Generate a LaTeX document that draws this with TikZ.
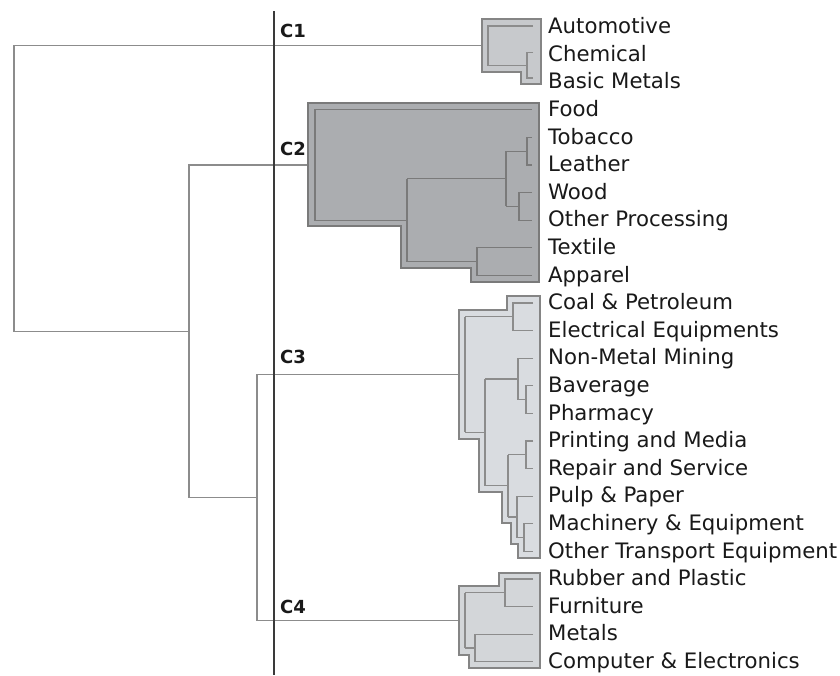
\documentclass[tikz,border=0pt]{standalone}
\usepackage{fontspec}
\setmainfont{DejaVu Sans}
\definecolor{axiscol}{HTML}{3A3A3A}
\definecolor{linkcol}{HTML}{8C8C8C}
\definecolor{edgecol}{HTML}{858585}
\definecolor{edgedark}{HTML}{7A7A7A}
\definecolor{fillone}{HTML}{C7C9CC}
\definecolor{filltwo}{HTML}{ABADB0}
\definecolor{fillthree}{HTML}{D9DCE0}
\definecolor{fillfour}{HTML}{D3D6D9}
\tikzset{
  linkline/.style={draw=linkcol, line width=1.1pt},
  axisline/.style={draw=axiscol, line width=1.6pt},
  clusterbox/.style={draw=edgecol, line width=2pt, line join=miter},
  innerline/.style={draw=linkcol, line width=1.2pt},
  leaflabel/.style={anchor=base west, inner sep=0pt, font=\fontsize{21.25}{24}\selectfont, text=black!90},
  clabel/.style={anchor=west, inner sep=0pt, font=\fontsize{18}{20}\selectfont\bfseries, text=black!90}
}
\begin{document}
\begin{tikzpicture}[x=1pt,y=-1pt]
\useasboundingbox[fill=white] (0,0) rectangle (840,675);

% cluster roots
\coordinate (k1) at (488,45.6);
\coordinate (k2) at (315,165);
\coordinate (k3) at (465,374.6);
\coordinate (k4) at (465,620.4);
% upper-level joins
\coordinate (j34) at (257,497.5);
\coordinate (j234) at (189,331.25);
\coordinate (j0) at (14,45.6);

% top-level dendrogram
\draw[linkline] (k1) -- (j0) -- (j0 |- j234) -- (j234);
\draw[linkline] (k2) -- (k2 -| j234) -- (j234 |- j34) -- (j34);
\draw[linkline] (k3) -- (k3 -| j34) -- (j34 |- k4) -- (k4);

% axis
\coordinate (axtop) at (274,11);
\coordinate (axbot) at (274,675);
\draw[axisline] (axtop) -- (axbot);
\node[clabel] (C1) at (280,31) {C1};
\node[clabel] (C2) at (280,148.5) {C2};
\node[clabel] (C3) at (280,357) {C3};
\node[clabel] (C4) at (280,607) {C4};

% cluster C1
\draw[clusterbox, fill=fillone] (482,19) -- (541,19) -- (541,84) -- (521,84) -- (521,72) -- (482,72) -- cycle;
\draw[innerline] (533,26) -- (488,26) -- (488,65.25) -- (527,65.25);
\draw[innerline] (533,52.5) -- (527,52.5) -- (527,78) -- (533,78);

% cluster C2
\draw[clusterbox, draw=edgedark, fill=filltwo] (308,103) -- (539,103) -- (539,282) -- (471,282) -- (471,268) -- (401,268) -- (401,226) -- (308,226) -- cycle;
\begin{scope}[innerline, draw=edgedark]
\draw (532,109.8) -- (315,109.8) -- (315,220.2) -- (407,220.2);
\draw (407,178.8) -- (407,261.6);
\draw (407,178.8) -- (506,178.8);
\draw (506,151.2) -- (506,206.4);
\draw (506,151.2) -- (527,151.2);
\draw (532,137.4) -- (527,137.4) -- (527,165) -- (532,165);
\draw (506,206.4) -- (519,206.4);
\draw (532,192.6) -- (519,192.6) -- (519,220.2) -- (532,220.2);
\draw (407,261.6) -- (477,261.6);
\draw (532,247.8) -- (477,247.8) -- (477,275.4) -- (532,275.4);
\end{scope}

% cluster C3
\draw[clusterbox, fill=fillthree] (540,296) -- (507,296) -- (507,310) -- (459,310) -- (459,439) -- (479,439) -- (479,492) -- (502,492) -- (502,523) -- (511,523) -- (511,544) -- (518,544) -- (518,558) -- (540,558) -- cycle;
\begin{scope}[innerline]
\draw (465,316.8) -- (465,432.4);
\draw (465,316.8) -- (513,316.8);
\draw (533,303) -- (513,303) -- (513,330.6) -- (533,330.6);
\draw (465,432.4) -- (485,432.4);
\draw (485,378.9) -- (485,485.85);
\draw (485,378.9) -- (518,378.9);
\draw (533,358.2) -- (518,358.2) -- (518,399.6) -- (526,399.6);
\draw (533,385.8) -- (526,385.8) -- (526,413.4) -- (533,413.4);
\draw (485,485.85) -- (508,485.85);
\draw (508,454.8) -- (508,516.9);
\draw (508,454.8) -- (526,454.8);
\draw (533,441) -- (526,441) -- (526,468.6) -- (533,468.6);
\draw (508,516.9) -- (517,516.9);
\draw (533,496.2) -- (517,496.2) -- (517,537.6) -- (524,537.6);
\draw (533,523.8) -- (524,523.8) -- (524,551.4) -- (533,551.4);
\end{scope}

% cluster C4
\draw[clusterbox, fill=fillfour] (540,573) -- (499,573) -- (499,586) -- (459,586) -- (459,655) -- (469,655) -- (469,668) -- (540,668) -- cycle;
\begin{scope}[innerline]
\draw (465,592.8) -- (465,648);
\draw (465,592.8) -- (505,592.8);
\draw (533,579) -- (505,579) -- (505,606.6) -- (533,606.6);
\draw (465,648) -- (475,648);
\draw (533,634.2) -- (475,634.2) -- (475,661.8) -- (533,661.8);
\end{scope}

% leaf labels
\foreach \t [count=\i from 0] in {Automotive, Chemical, Basic Metals, Food, Tobacco, Leather, Wood, Other Processing, Textile, Apparel, Coal \& Petroleum, Electrical Equipments, Non-Metal Mining, Baverage, Pharmacy, Printing and Media, Repair and Service, Pulp \& Paper, Machinery \& Equipment, Other Transport Equipment, Rubber and Plastic, Furniture, Metals, Computer \& Electronics}
  \node[leaflabel] (t\i) at (548,{33.6+27.6*\i}) {\t};
\end{tikzpicture}
\end{document}
